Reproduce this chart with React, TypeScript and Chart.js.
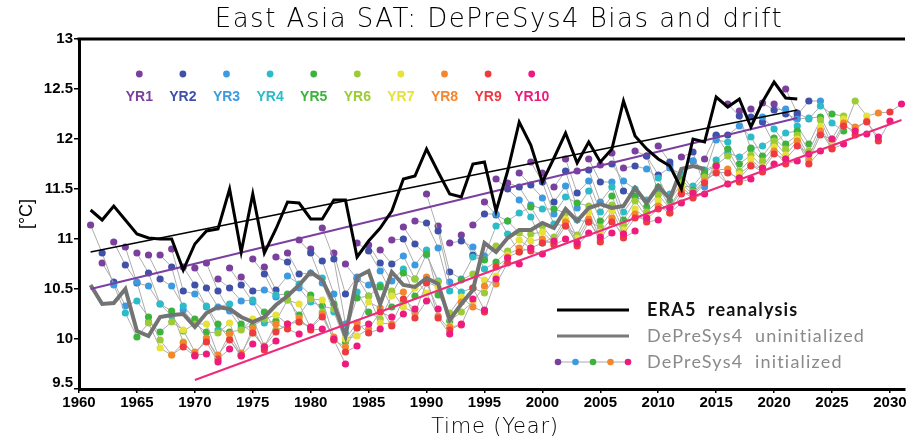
import { useEffect, useRef } from 'react';
import { Chart, registerables } from 'chart.js';

Chart.register(...registerables);

const TITLE = 'East Asia SAT: DePreSys4 Bias and drift';
const X_TITLE = 'Time (Year)';
const Y_TITLE = '[°C]';
const LEGEND_LABELS = ['ERA5  reanalysis', 'DePreSys4  uninitialized', 'DePreSys4  initialized'];

const LEAD_LABELS = ['YR1', 'YR2', 'YR3', 'YR4', 'YR5', 'YR6', 'YR7', 'YR8', 'YR9', 'YR10'];
const LEAD_COLORS = ['#7b3f9e', '#3f51a8', '#3c9be0', '#2bbcc8', '#3cb43c', '#9ccc34', '#e6e23a', '#f5862e', '#ef3a3f', '#ee1a7e'];

// ERA5 reanalysis, 1961..2022
const ERA5_START = 1961;
const era5 = [
  11.29, 11.19, 11.33, 11.19, 11.05, 11.01, 11.0, 11.0, 10.69, 10.95,
  11.08, 11.1, 11.5, 10.87, 11.45, 10.86, 11.1, 11.37, 11.36, 11.2,
  11.2, 11.39, 11.39, 10.82, 10.98, 11.11, 11.28, 11.6, 11.63, 11.9,
  11.67, 11.45, 11.42, 11.75, 11.77, 11.28, 11.68, 12.17, 11.94, 11.57,
  11.81, 12.06, 11.76, 11.97, 11.77, 11.9, 12.38, 12.03, 11.9, 11.8,
  11.73, 11.5, 12.0, 11.97, 12.42, 12.32, 12.4, 12.12, 12.37, 12.57,
  12.41, 12.4,
];

// DePreSys4 uninitialized, 1961..2014
const UNINIT_START = 1961;
const uninit = [
  10.54, 10.35, 10.36, 10.5, 10.08, 10.03, 10.22, 10.24, 10.25, 10.12,
  10.26, 10.32, 10.3, 10.22, 10.17, 10.22, 10.34, 10.43, 10.54, 10.67,
  10.59, 10.35, 10.03, 10.62, 10.68, 10.35, 10.67, 10.54, 10.52, 10.61,
  10.55, 10.19, 10.35, 10.49, 10.96, 10.87, 11.01, 11.09, 11.09, 11.16,
  11.11, 11.3, 11.18, 11.31, 11.35, 11.31, 11.33, 11.51, 11.36, 11.53,
  11.4, 11.7, 11.73, 11.7,
];

// DePreSys4 initialized: one array per lead year, indexed by start year (1960..2021)
const FIRST_START = 1960;
const yr1 = [
  11.14, 10.76, 10.97, 10.92, 10.86, 10.84, 10.84, 10.9, 10.72, 10.71,
  10.76, 10.6, 10.71, 10.62, 10.8, 10.72, 10.82, 10.86, 10.99, 10.9,
  11.11, 10.86, 10.75, 10.96, 10.94, 10.89, 10.99, 11.12, 11.18, 11.45,
  11.13, 10.96, 11.04, 11.14, 11.37, 11.6, 11.56, 11.66, 11.77, 11.66,
  11.52, 11.8, 11.68, 11.8, 11.74, 11.86, 11.71, 11.88, 11.83, 11.93,
  11.74, 11.82, 11.78, 11.8, 12.03, 12.35, 12.28, 12.3, 12.36, 12.35,
  12.5, 12.24,
];
const yr2 = [
  10.86, 10.57, 10.74, 10.56, 10.66, 10.6, 10.72, 10.48, 10.54, 10.51,
  10.48, 10.51, 10.54, 10.48, 10.65, 10.49, 10.77, 10.65, 10.86, 10.78,
  10.8, 10.45, 10.6, 10.88, 10.76, 10.75, 11.0, 10.95, 11.16, 11.08,
  10.67, 10.98, 10.84, 11.25, 11.24, 11.5, 11.52, 11.54, 11.57, 11.37,
  11.68, 11.46, 11.69, 11.57, 11.75, 11.48, 11.73, 11.83, 11.64, 11.77,
  11.6, 11.87, 11.64, 12.04, 12.04, 12.23, 12.22, 12.17, 12.29, 12.25,
  12.26, 12.38,
];
const yr3 = [
  10.54, 10.33, 10.57, 10.53, 10.35, 10.53, 10.29, 10.45, 10.32, 10.32,
  10.28, 10.38, 10.37, 10.49, 10.42, 10.63, 10.51, 10.66, 10.56, 10.45,
  10.15, 10.62, 10.54, 10.68, 10.58, 10.83, 10.74, 10.84, 10.91, 10.57,
  10.6, 10.92, 10.83, 11.25, 11.18, 11.39, 11.34, 11.41, 11.25, 11.53,
  11.31, 11.58, 11.37, 11.57, 11.58, 11.41, 11.7, 11.47, 11.71, 11.52,
  11.78, 11.52, 11.99, 11.86, 12.13, 11.9, 12.22, 11.95, 12.3, 12.2,
  12.2, 12.38,
];
const yr4 = [
  10.26, 10.38, 10.17, 10.35, 10.23, 10.33, 10.15, 10.33, 10.09, 10.35,
  10.11, 10.39, 10.16, 10.44, 10.39, 10.55, 10.37, 10.61, 10.27, 10.06,
  10.47, 10.43, 10.54, 10.45, 10.7, 10.6, 10.89, 10.58, 10.48, 10.47,
  10.82, 10.7, 11.13, 11.05, 11.26, 11.22, 11.3, 11.15, 11.42, 11.19,
  11.48, 11.27, 11.52, 11.27, 11.5, 11.39, 11.61, 11.45, 11.65, 11.53,
  11.69, 11.79, 11.97, 11.82, 12.02, 11.93, 12.1, 12.06, 12.13, 12.21,
  12.33, 12.16,
];
const yr5 = [
  10.02, 10.22, 10.07, 10.28, 10.08, 10.2, 10.07, 10.15, 10.07, 10.15,
  10.13, 10.27, 10.18, 10.45, 10.24, 10.44, 10.33, 10.35, 9.97, 10.41,
  10.27, 10.52, 10.32, 10.66, 10.43, 10.85, 10.44, 10.18, 10.59, 10.51,
  10.79, 10.77, 11.18, 10.87, 11.32, 10.96, 11.3, 11.13, 11.36, 11.17,
  11.18, 11.43, 11.19, 11.43, 11.32, 11.52, 11.38, 11.6, 11.49, 11.67,
  11.74, 11.9, 11.75, 11.91, 11.83, 12.01, 11.95, 12.08, 11.95, 12.22,
  12.25, 12.08,
];
const yr6 = [
  10.16, 9.99, 10.17, 9.97, 10.15, 10.0, 10.06, 10.0, 10.09, 10.06,
  10.2, 10.09, 10.39, 10.17, 10.4, 10.27, 10.3, 10.0, 10.11, 10.43,
  10.2, 10.48, 10.37, 10.6, 10.57, 10.57, 10.26, 10.27, 10.65, 10.46,
  10.93, 10.88, 11.06, 11.05, 11.13, 11.02, 11.26, 11.04, 11.33, 11.12,
  11.34, 11.14, 11.38, 11.27, 11.44, 11.32, 11.56, 11.47, 11.62, 11.73,
  11.83, 11.68, 11.84, 11.78, 11.98, 11.9, 12.04, 11.88, 12.19, 12.0,
  12.23, 12.38,
];
const yr7 = [
  9.91, 9.84, 10.09, 9.84, 10.15, 9.83, 10.16, 9.83, 10.2, 9.92,
  10.24, 10.13, 10.35, 10.12, 10.39, 9.99, 10.0, 10.03, 10.37, 10.16,
  10.43, 10.32, 10.51, 10.46, 10.52, 10.13, 10.42, 10.37, 10.59, 10.63,
  10.84, 10.99, 10.98, 11.07, 10.98, 11.2, 11.01, 11.27, 11.07, 11.28,
  11.09, 11.3, 11.22, 11.38, 11.31, 11.52, 11.44, 11.58, 11.69, 11.55,
  11.65, 11.8, 11.72, 11.92, 11.84, 12.0, 11.82, 12.12, 11.94, 12.2,
  12.1, 12.23,
];
const yr8 = [
  9.84, 9.96, 9.87, 10.01, 9.84, 10.05, 9.86, 10.11, 9.93, 10.15,
  10.15, 10.21, 10.11, 10.25, 10.02, 9.92, 10.16, 10.1, 10.31, 10.15,
  10.47, 10.26, 10.62, 10.23, 10.12, 10.37, 10.32, 10.53, 10.55, 10.82,
  10.91, 10.91, 11.0, 10.96, 11.17, 10.96, 11.2, 11.0, 11.21, 11.05,
  11.25, 11.2, 11.33, 11.26, 11.48, 11.42, 11.58, 11.67, 11.7, 11.61,
  11.74, 11.69, 11.88, 11.8, 11.98, 11.79, 12.08, 11.91, 12.16, 12.12,
  12.18, 12.26,
];
const yr9 = [
  9.92, 9.84, 9.97, 9.8, 9.99, 9.84, 10.06, 9.89, 10.07, 10.1,
  10.17, 10.09, 10.22, 9.99, 9.87, 10.11, 10.06, 10.27, 10.13, 10.4,
  10.21, 10.56, 10.21, 10.09, 10.14, 10.51, 10.27, 10.72, 10.76, 10.87,
  10.88, 10.96, 10.94, 11.13, 10.93, 11.17, 10.97, 11.17, 11.01, 11.21,
  11.17, 11.3, 11.26, 11.45, 11.41, 11.56, 11.66, 11.66, 11.57, 11.73,
  11.67, 11.85, 11.75, 11.93, 11.75, 12.04, 11.9, 12.13, 12.04, 12.17,
  11.98, 12.27,
];
const yr10 = [
  9.83, 9.85, 9.77, 9.9, 9.83, 9.95, 9.92, 9.98, 10.15, 10.05,
  10.12, 10.1, 10.0, 9.75, 9.93, 10.15, 10.1, 10.22, 10.25, 10.3,
  10.38, 10.3, 10.05, 10.15, 10.4, 10.29, 10.6, 10.81, 10.75, 10.91,
  10.85, 10.98, 11.0, 10.96, 11.06, 11.02, 11.06, 11.05, 11.08, 11.21,
  11.19, 11.31, 11.36, 11.46, 11.45, 11.73, 11.55, 11.61, 11.6, 11.71,
  11.75, 11.8, 11.78, 11.85, 11.88, 12.0, 11.95, 12.08, 12.05, 12.02,
  12.18, 12.35,
];
const LEADS = [yr1, yr2, yr3, yr4, yr5, yr6, yr7, yr8, yr9, yr10];

// linear trend lines (end points)
const trendEra5Years = [1961, 2022];
const trendEra5 = [10.87, 12.29];
const trendYr1Years = [1961, 2022];
const trendYr1 = [10.5, 12.21];
const trendYr10Years = [1970, 2031];
const trendYr10 = [9.59, 12.19];

const X_MIN = 1960;
const X_MAX = 2031.3;
const Y_MIN = 9.5;
const Y_MAX = 13;

const TICK_FONT = { family: '"Liberation Sans Narrow", "Arial Narrow", "Liberation Sans", sans-serif', size: 15, weight: 'bold' as const };

function series(start: number, vals: number[]) {
  return vals.map((v, i) => ({ x: start + i, y: v }));
}
function pairs(xs: number[], ys: number[]) {
  return xs.map((x, i) => ({ x, y: ys[i] }));
}

const overlay = {
  id: 'overlay',
  afterDraw(chart: any) {
    const { ctx, chartArea: a } = chart;
    ctx.save();
    // top frame line
    ctx.strokeStyle = '#000';
    ctx.lineWidth = 3;
    ctx.beginPath();
    ctx.moveTo(a.left - 1.5, a.top);
    ctx.lineTo(a.right, a.top);
    ctx.stroke();

    // title
    ctx.fillStyle = '#000';
    ctx.textAlign = 'center';
    ctx.textBaseline = 'middle';
    ctx.font = '200 26px "DejaVu Sans", sans-serif';
    (ctx as any).letterSpacing = '1.5px';
    ctx.fillText(TITLE, 499, 20);

    // x title
    ctx.font = '200 21px "DejaVu Sans", sans-serif';
    (ctx as any).letterSpacing = '0.8px';
    ctx.fillText(X_TITLE, 495, 428);
    (ctx as any).letterSpacing = '0px';

    // y title
    ctx.save();
    ctx.translate(27, 214);
    ctx.rotate(-Math.PI / 2);
    ctx.font = '18px "Liberation Sans", sans-serif';
    ctx.fillText(Y_TITLE, 0, 0);
    ctx.restore();

    // lowest y tick label, raised to avoid the 1960 label
    ctx.textAlign = 'right';
    ctx.font = `bold ${TICK_FONT.size}px ${TICK_FONT.family}`;
    ctx.fillStyle = '#000';
    ctx.fillText(String(Y_MIN), 73, 383);

    // lead-year legend
    ctx.textAlign = 'center';
    ctx.font = 'bold 14px "Liberation Sans", sans-serif';
    LEAD_LABELS.forEach((lab, i) => {
      const x = 139.3 + i * 43.6;
      ctx.fillStyle = LEAD_COLORS[i];
      ctx.beginPath();
      ctx.arc(x, 74, 3.4, 0, Math.PI * 2);
      ctx.fill();
      ctx.fillText(lab, x, 97);
    });

    // series legend
    const lx0 = 557;
    const lx1 = 629;
    const ys = [310, 336, 362];
    ctx.lineCap = 'butt';
    ctx.strokeStyle = '#000';
    ctx.lineWidth = 3;
    ctx.beginPath();
    ctx.moveTo(lx0, ys[0]);
    ctx.lineTo(lx1, ys[0]);
    ctx.stroke();
    ctx.strokeStyle = '#7a7a7a';
    ctx.lineWidth = 3;
    ctx.beginPath();
    ctx.moveTo(lx0, ys[1]);
    ctx.lineTo(lx1, ys[1]);
    ctx.stroke();
    ctx.strokeStyle = '#aaaaaa';
    ctx.lineWidth = 1.2;
    ctx.beginPath();
    ctx.moveTo(lx0, ys[2]);
    ctx.lineTo(lx1, ys[2]);
    ctx.stroke();
    [0, 2, 4, 7, 9].forEach((li, k) => {
      ctx.fillStyle = LEAD_COLORS[li];
      ctx.beginPath();
      ctx.arc(lx0 + 1 + k * 17.5, ys[2], 3.3, 0, Math.PI * 2);
      ctx.fill();
    });
    ctx.textAlign = 'left';
    (ctx as any).letterSpacing = '1.2px';
    ctx.font = 'bold 18px Lato, "DejaVu Sans", sans-serif';
    ctx.fillStyle = '#111';
    ctx.fillText(LEGEND_LABELS[0], 647, ys[0]);
    ctx.font = '18px Lato, "DejaVu Sans", sans-serif';
    ctx.fillStyle = '#8a8a8a';
    ctx.fillText(LEGEND_LABELS[1], 647, ys[1]);
    ctx.fillText(LEGEND_LABELS[2], 647, ys[2]);
    (ctx as any).letterSpacing = '0px';
    ctx.restore();
  },
};

export default function App() {
  const ref = useRef<HTMLCanvasElement>(null);

  useEffect(() => {
    const initSets = yr1.map((_, i) => {
      const start = FIRST_START + i;
      return {
        label: 'init ' + start,
        data: LEADS.map((arr, L) => ({ x: start + L + 1, y: arr[i] })),
        borderColor: '#adadad',
        borderWidth: 1,
        pointRadius: 3.6,
        pointBorderWidth: 0,
        pointBackgroundColor: LEAD_COLORS,
        pointBorderColor: LEAD_COLORS,
        order: 5,
      };
    });

    const chart = new Chart(ref.current as HTMLCanvasElement, {
      type: 'line',
      data: {
        datasets: [
          {
            label: 'ERA5',
            data: series(ERA5_START, era5),
            borderColor: '#000',
            borderWidth: 3,
            pointRadius: 0,
            order: 0,
          },
          {
            label: 'ERA5 trend',
            data: pairs(trendEra5Years, trendEra5),
            borderColor: '#000',
            borderWidth: 1.5,
            pointRadius: 0,
            order: 1,
          },
          {
            label: 'YR1 trend',
            data: pairs(trendYr1Years, trendYr1),
            borderColor: '#7b3fa0',
            borderWidth: 2,
            pointRadius: 0,
            order: 1,
          },
          {
            label: 'YR10 trend',
            data: pairs(trendYr10Years, trendYr10),
            borderColor: '#ee2a7b',
            borderWidth: 2,
            pointRadius: 0,
            order: 1,
          },
          {
            label: 'uninit',
            data: series(UNINIT_START, uninit),
            borderColor: '#737373',
            borderWidth: 4,
            pointRadius: 0,
            order: 2,
          },
          ...initSets,
        ] as any,
      },
      options: {
        animation: false,
        responsive: true,
        maintainAspectRatio: false,
        events: [],
        layout: { padding: { top: 39, left: 0, right: 0, bottom: 0 } },
        plugins: {
          legend: { display: false },
          title: { display: false },
          tooltip: { enabled: false },
        },
        scales: {
          x: {
            type: 'linear',
            min: X_MIN,
            max: X_MAX,
            afterFit: (s: any) => {
              s.height = 52;
              s.paddingLeft = 0;
              s.paddingRight = 0;
            },
            border: { display: true, color: '#000', width: 3 },
            grid: { display: true, drawOnChartArea: false, drawTicks: true, tickLength: 4, color: '#000', lineWidth: 1.5 },
            ticks: {
              stepSize: 5,
              includeBounds: false,
              autoSkip: false,
              maxRotation: 0,
              padding: 1,
              color: '#000',
              font: TICK_FONT,
              callback: (v: any) => String(v),
            },
          },
          y: {
            type: 'linear',
            min: Y_MIN,
            max: Y_MAX,
            afterFit: (s: any) => {
              s.width = 79;
              s.paddingTop = 0;
              s.paddingBottom = 0;
            },
            border: { display: true, color: '#000', width: 3 },
            grid: { display: true, drawOnChartArea: false, drawTicks: true, tickLength: 5, color: '#000', lineWidth: 1.5 },
            ticks: {
              stepSize: 0.5,
              includeBounds: false,
              padding: 1,
              color: '#000',
              font: TICK_FONT,
              callback: (v: any) => (v === Y_MIN ? '' : String(v)),
            },
          },
        },
      } as any,
      plugins: [overlay],
    });
    return () => chart.destroy();
  }, []);

  return (
    <div style={{ position: 'absolute', left: 0, top: 0, width: 909, height: 441, background: '#fff' }}>
      <canvas ref={ref} />
    </div>
  );
}
